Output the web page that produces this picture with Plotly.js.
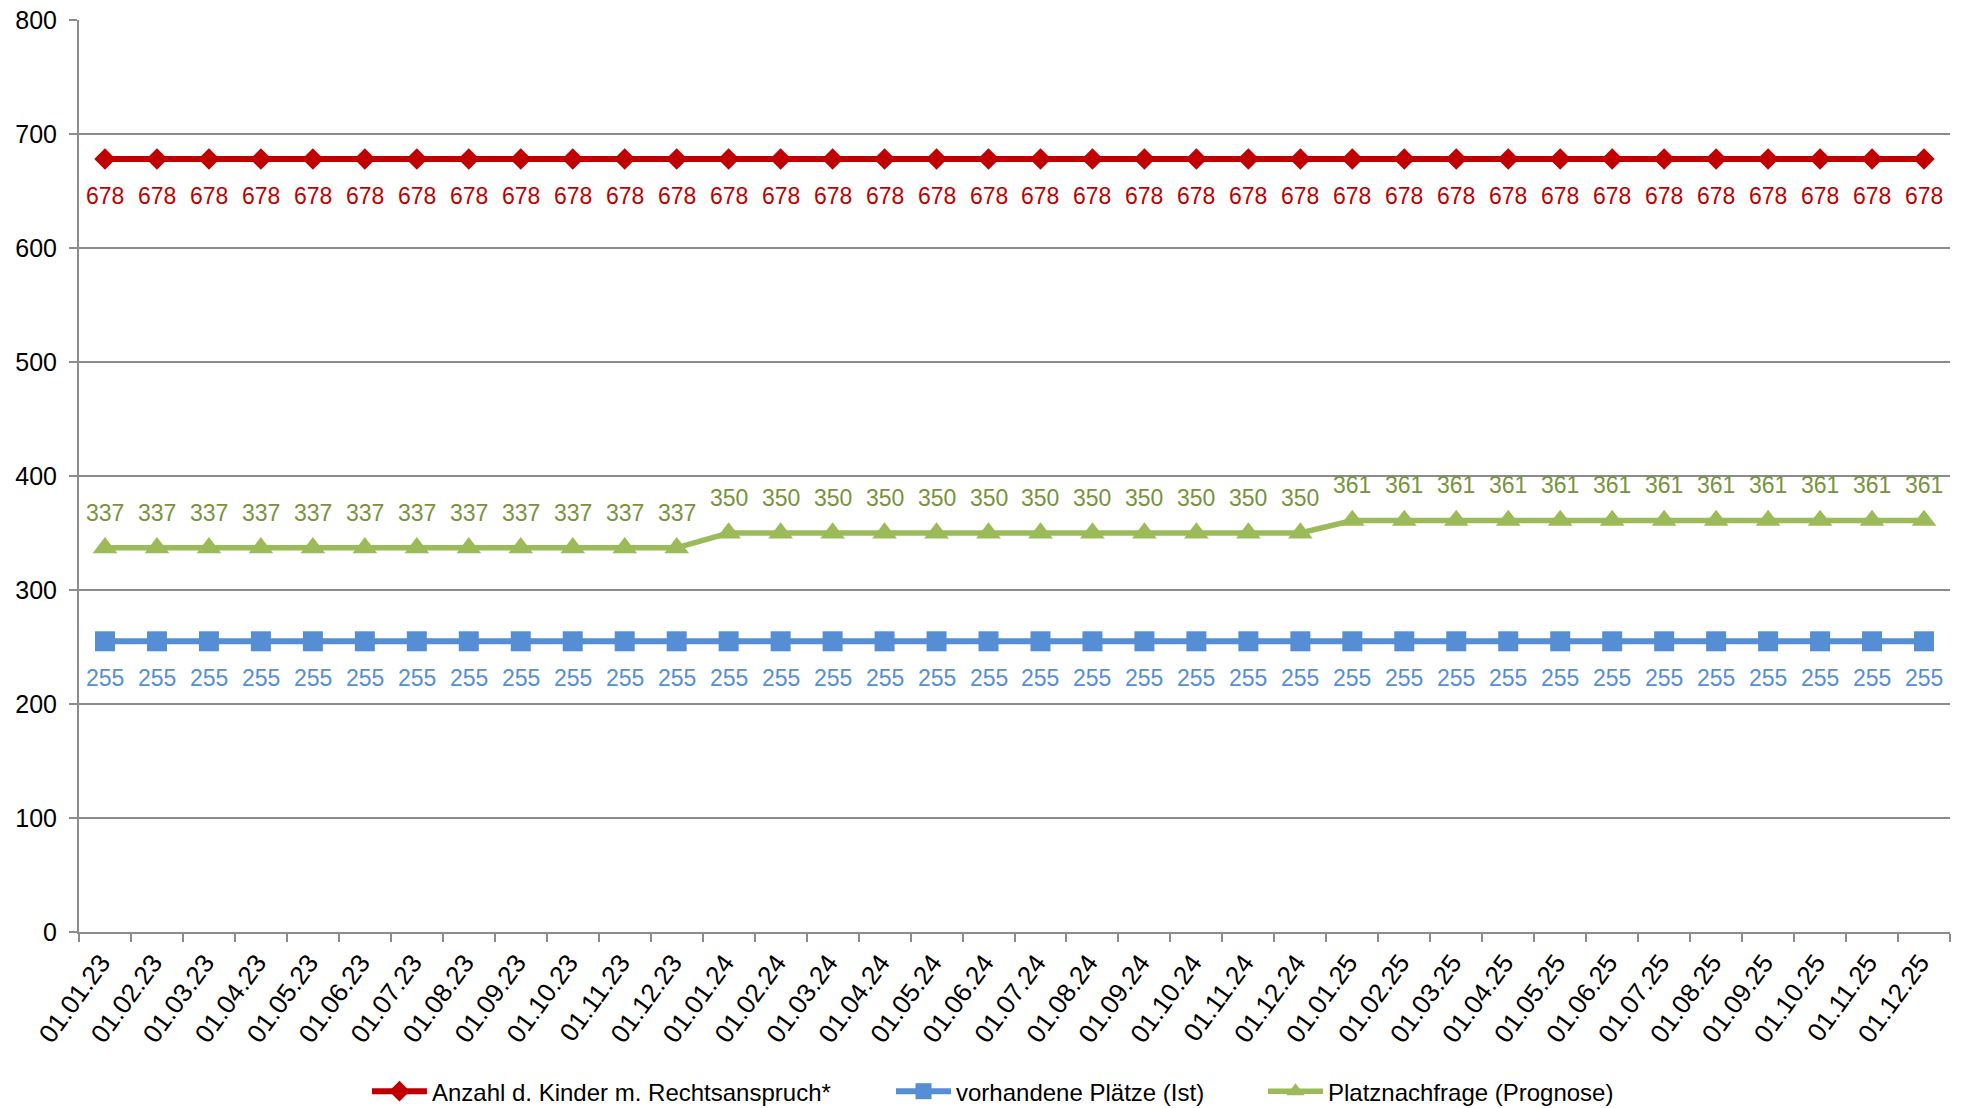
<!DOCTYPE html>
<html>
<head>
<meta charset="utf-8">
<script src="https://cdn.plot.ly/plotly-3.0.1.min.js"></script>
<style>html,body{margin:0;padding:0;background:#fff;}#chart{width:1968px;height:1108px;}</style>
</head>
<body>
<div id="chart"></div>
<script>
const categories = ["01.01.23","01.02.23","01.03.23","01.04.23","01.05.23","01.06.23","01.07.23","01.08.23","01.09.23","01.10.23","01.11.23","01.12.23",
"01.01.24","01.02.24","01.03.24","01.04.24","01.05.24","01.06.24","01.07.24","01.08.24","01.09.24","01.10.24","01.11.24","01.12.24",
"01.01.25","01.02.25","01.03.25","01.04.25","01.05.25","01.06.25","01.07.25","01.08.25","01.09.25","01.10.25","01.11.25","01.12.25"];
const kinderRechtsanspruch = [678,678,678,678,678,678,678,678,678,678,678,678,
678,678,678,678,678,678,678,678,678,678,678,678,
678,678,678,678,678,678,678,678,678,678,678,678];
const vorhandenePlaetze = [255,255,255,255,255,255,255,255,255,255,255,255,
255,255,255,255,255,255,255,255,255,255,255,255,
255,255,255,255,255,255,255,255,255,255,255,255];
const platznachfrage = [337,337,337,337,337,337,337,337,337,337,337,337,
350,350,350,350,350,350,350,350,350,350,350,350,
361,361,361,361,361,361,361,361,361,361,361,361];
const seriesNames = ["Anzahl d. Kinder m. Rechtsanspruch*","vorhandene Plätze (Ist)","Platznachfrage (Prognose)"];

const labelFamily = "Liberation Sans, Arial, sans-serif";
const traces = [
  {x:categories, y:kinderRechtsanspruch, name:seriesNames[0], type:"scatter", mode:"lines+markers",
   line:{color:"#C00000", width:6}, marker:{symbol:"diamond", size:16.5, color:"#C00000"},
   legend:"legend", cliponaxis:false},
  {x:categories, y:vorhandenePlaetze, name:seriesNames[1], type:"scatter", mode:"lines+markers",
   line:{color:"#558ED5", width:6}, marker:{symbol:"square", size:20, color:"#558ED5"},
   legend:"legend2", cliponaxis:false},
  {x:categories, y:platznachfrage, name:seriesNames[2], type:"scatter", mode:"lines+markers",
   line:{color:"#9BBB59", width:5.5}, marker:{symbol:"triangle-up", size:21.5, color:"#9BBB59"},
   legend:"legend3", cliponaxis:false}
];

function labels(values, color, shift) {
  return values.map((v, i) => ({
    x: categories[i], y: v, xref: "x", yref: "y", text: String(v), showarrow: false,
    yshift: shift, xanchor: "center", yanchor: "middle",
    font: {family: labelFamily, size: 23, color: color}
  }));
}
const annotations = [].concat(
  labels(kinderRechtsanspruch, "#C00000", -37),
  labels(vorhandenePlaetze, "#558ED5", -37),
  labels(platznachfrage, "#77933C", 35)
);

const legFont = {family:"Liberation Sans, Arial, sans-serif", size:24, color:"#000"};
const legBase = {orientation:"h", yanchor:"middle", y:-0.175, xanchor:"left", font:legFont, bgcolor:"rgba(0,0,0,0)", itemwidth:55};
const layout = {
  width:1968, height:1108,
  margin:{l:79, r:18, t:20, b:176, autoexpand:false},
  paper_bgcolor:"#fff", plot_bgcolor:"#fff",
  showlegend:true,
  legend:Object.assign({x:0.1539}, legBase),
  legend2:Object.assign({x:0.434}, legBase),
  legend3:Object.assign({x:0.6328}, legBase),
  annotations: annotations,
  xaxis:{type:"category", range:[-0.5,35.5], tickson:"boundaries", ticks:"outside", ticklen:8, tickwidth:2, tickcolor:"#8C8C8C",
    showline:true, linecolor:"#8C8C8C", linewidth:2, showgrid:false, tickangle:-54,
    ticklabelshift:-4, ticklabelstandoff:3,
    tickfont:{family:"Liberation Sans, Arial, sans-serif", size:26, color:"#000"}, zeroline:false, automargin:false},
  yaxis:{range:[0,800], dtick:100, tick0:0, ticks:"outside", ticklen:8, tickwidth:2, tickcolor:"#8C8C8C",
    showline:true, linecolor:"#8C8C8C", linewidth:2, showgrid:true, gridcolor:"#8C8C8C", gridwidth:2, zeroline:false,
    ticklabelstandoff:7,
    tickfont:{family:"Liberation Sans, Arial, sans-serif", size:25, color:"#000"}, automargin:false}
};
Plotly.newPlot("chart", traces, layout, {staticPlot:true, displayModeBar:false});
</script>
</body>
</html>
